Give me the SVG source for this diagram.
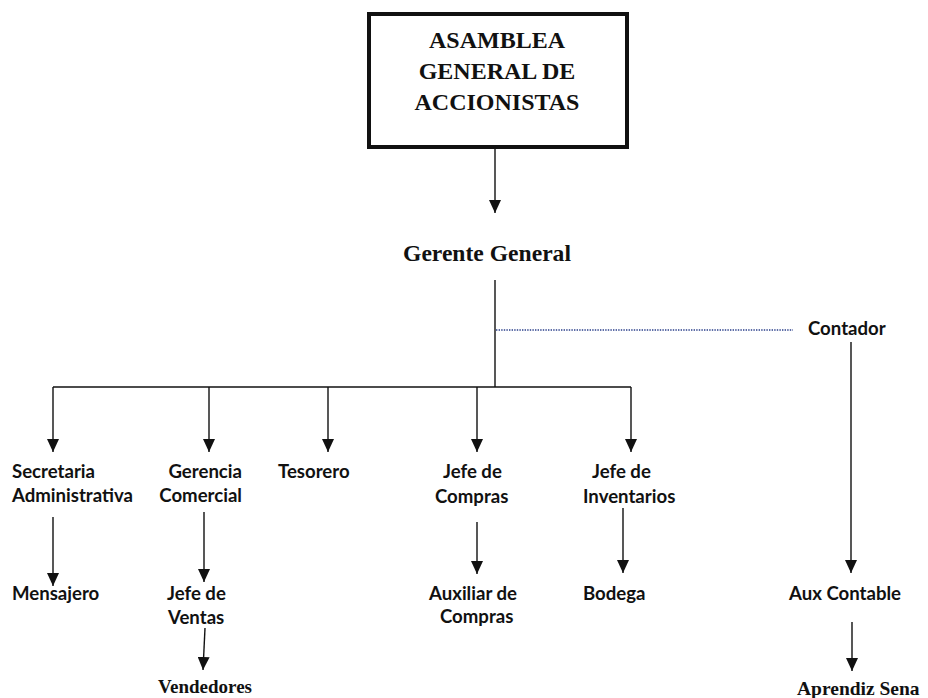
<svg xmlns="http://www.w3.org/2000/svg" width="928" height="698" viewBox="0 0 928 698">
<style>
.ser{font-family:"Liberation Serif","Times New Roman",serif;font-weight:bold;fill:#111}
.san{font-family:Lato,"Open Sans",sans-serif;font-weight:bold;font-size:18.6px;fill:#111}
.ln{stroke:#111;stroke-width:1.4;fill:none}
.ar{marker-end:url(#ah)}
.dot{stroke:#2a3f8a;stroke-width:1.4;stroke-dasharray:1.4 1.2;fill:none}
</style>
<defs>
<marker id="ah" markerUnits="userSpaceOnUse" markerWidth="13" markerHeight="12" viewBox="0 0 13 12" refX="13" refY="6" orient="auto">
<path d="M0,0 L13,6 L0,12 Z" fill="#111"/>
</marker>
</defs>
<rect width="928" height="698" fill="#fff"/>
<g id="connectors">
<line class="ln ar" x1="495" y1="149" x2="495" y2="213"/>
<line class="ln" x1="495" y1="280" x2="495" y2="387"/>
<line class="ln" x1="53" y1="387" x2="631" y2="387"/>
<line class="ln ar" x1="53" y1="387" x2="53" y2="452"/>
<line class="ln ar" x1="209" y1="387" x2="209" y2="452"/>
<line class="ln ar" x1="328" y1="387" x2="328" y2="452"/>
<line class="ln ar" x1="477" y1="387" x2="477" y2="452"/>
<line class="ln ar" x1="631" y1="387" x2="631" y2="452"/>
<line class="dot" x1="496" y1="330" x2="793" y2="330"/>
<line class="ln ar" x1="53" y1="517" x2="53" y2="586"/>
<line class="ln ar" x1="204" y1="512" x2="204" y2="582"/>
<line class="ln ar" x1="205" y1="628" x2="203" y2="670"/>
<line class="ln ar" x1="477" y1="522" x2="477" y2="574"/>
<line class="ln ar" x1="623" y1="508" x2="623" y2="573"/>
<line class="ln ar" x1="851" y1="342" x2="851" y2="573"/>
<line class="ln ar" x1="852" y1="622" x2="852" y2="671"/>
</g>
<g id="asamblea">
<rect x="369" y="14" width="258" height="133" fill="#fff" stroke="#111" stroke-width="4"/>
<text class="ser" font-size="24" text-anchor="middle" x="497" y="48">ASAMBLEA</text>
<text class="ser" font-size="24" text-anchor="middle" x="497" y="79">GENERAL DE</text>
<text class="ser" font-size="24" text-anchor="middle" x="497" y="110">ACCIONISTAS</text>
</g>
<g id="gerente"><text class="ser" font-size="23.6" text-anchor="middle" x="487" y="261">Gerente General</text></g>
<g id="contador"><text class="san" x="808" y="335">Contador</text></g>
<g id="secretaria"><text class="san" x="12" y="478">Secretaria</text><text class="san" x="12" y="502">Administrativa</text></g>
<g id="gerencia"><text class="san" text-anchor="end" x="242" y="478">Gerencia</text><text class="san" text-anchor="end" x="242" y="502">Comercial</text></g>
<g id="tesorero"><text class="san" x="278" y="478">Tesorero</text></g>
<g id="jefe-compras"><text class="san" x="443" y="478">Jefe de</text><text class="san" x="435" y="503">Compras</text></g>
<g id="jefe-inventarios"><text class="san" x="592" y="478">Jefe de</text><text class="san" x="583" y="503">Inventarios</text></g>
<g id="mensajero"><text class="san" x="12" y="600">Mensajero</text></g>
<g id="jefe-ventas"><text class="san" x="167" y="600">Jefe de</text><text class="san" x="168" y="624">Ventas</text></g>
<g id="vendedores"><text class="ser" font-size="19" text-anchor="middle" x="205" y="693">Vendedores</text></g>
<g id="auxiliar-compras"><text class="san" x="429" y="600">Auxiliar de</text><text class="san" x="440" y="623">Compras</text></g>
<g id="bodega"><text class="san" x="583" y="600">Bodega</text></g>
<g id="aux-contable"><text class="san" x="789" y="600">Aux Contable</text></g>
<g id="aprendiz"><text class="ser" font-size="19.5" x="797" y="695">Aprendiz Sena</text></g>
</svg>
